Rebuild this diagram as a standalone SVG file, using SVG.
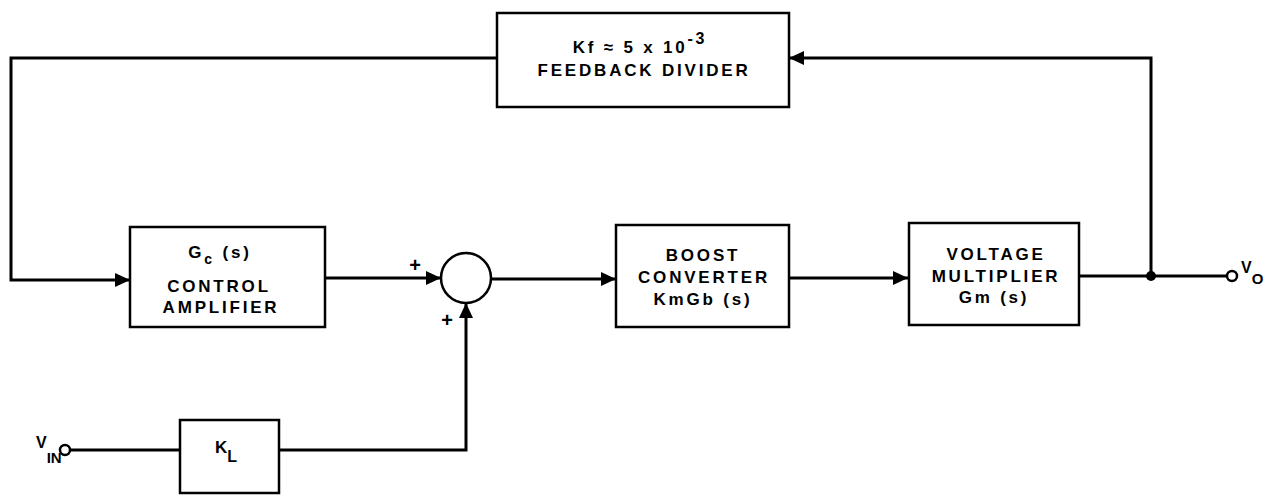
<svg xmlns="http://www.w3.org/2000/svg" width="1276" height="495" viewBox="0 0 1276 495">
<defs>
<marker id="ah" markerUnits="userSpaceOnUse" markerWidth="16" markerHeight="14" refX="15" refY="7" orient="auto">
<path d="M0,0 L15,7 L0,14 Z" fill="#000"/>
</marker>
<style>
.box{fill:#fff;stroke:#000;stroke-width:2.5}
.w{fill:none;stroke:#000;stroke-width:3}
.t{font-family:"Liberation Sans",Arial,sans-serif;font-weight:bold;font-size:17px;letter-spacing:2.8px;fill:#000;text-anchor:middle}
.s{font-family:"Liberation Sans",Arial,sans-serif;font-weight:bold;fill:#000}
</style>
</defs>
<rect width="1276" height="495" fill="#fff"/>
<g id="connectors">
<path class="w" d="M497,58 H11 V280 H130" marker-end="url(#ah)"/>
<path class="w" d="M325,278 H441" marker-end="url(#ah)"/>
<path class="w" d="M491,279 H616" marker-end="url(#ah)"/>
<path class="w" d="M789,278 H908" marker-end="url(#ah)"/>
<path class="w" d="M1079,276 H1227"/>
<path class="w" d="M1151,276 V58 H789" marker-end="url(#ah)"/>
<path class="w" d="M70,450 H180"/>
<path class="w" d="M279,450 H466 V303" marker-end="url(#ah)"/>
<circle cx="1151" cy="276" r="5" fill="#000"/>
<circle cx="1232" cy="276" r="5" fill="#fff" stroke="#000" stroke-width="2.5"/>
<circle cx="65" cy="450" r="5" fill="#fff" stroke="#000" stroke-width="2.5"/>
</g>
<g id="feedback-divider">
<rect class="box" x="497" y="13" width="292" height="94"/>
<text class="t" x="640" y="53" letter-spacing="2">Kf ≈ 5 x 10<tspan font-size="16" dy="-9">-3</tspan></text>
<text class="t" x="644" y="76">FEEDBACK DIVIDER</text>
</g>
<g id="control-amplifier">
<rect class="box" x="130" y="227" width="195" height="100"/>
<text class="t" x="220" y="258">G<tspan font-size="14" dy="6">c</tspan><tspan dy="-6"> (s)</tspan></text>
<text class="t" x="219" y="292">CONTROL</text>
<text class="t" x="221" y="313">AMPLIFIER</text>
</g>
<g id="summing-junction">
<circle cx="466" cy="278" r="25" fill="#fff" stroke="#000" stroke-width="2.5"/>
<text class="s" x="415" y="272" font-size="20" text-anchor="middle">+</text>
<text class="s" x="447" y="327" font-size="20" text-anchor="middle">+</text>
</g>
<g id="boost-converter">
<rect class="box" x="616" y="225" width="173" height="102"/>
<text class="t" x="703" y="261">BOOST</text>
<text class="t" x="704" y="283">CONVERTER</text>
<text class="t" x="703" y="305">KmGb (s)</text>
</g>
<g id="voltage-multiplier">
<rect class="box" x="909" y="223" width="170" height="102"/>
<text class="t" x="996" y="260">VOLTAGE</text>
<text class="t" x="996" y="282">MULTIPLIER</text>
<text class="t" x="994" y="303">Gm (s)</text>
</g>
<g id="kl">
<rect class="box" x="180" y="420" width="99" height="73"/>
<text class="s" x="215" y="453" font-size="17">K<tspan font-size="16" dy="9">L</tspan></text>
</g>
<g id="vin-label">
<text class="s" x="36" y="448" font-size="16">V<tspan dy="15" font-size="15">IN</tspan></text>
</g>
<g id="vo-label">
<text class="s" x="1241" y="273" font-size="16">V<tspan dy="11" font-size="15">O</tspan></text>
</g>
</svg>
